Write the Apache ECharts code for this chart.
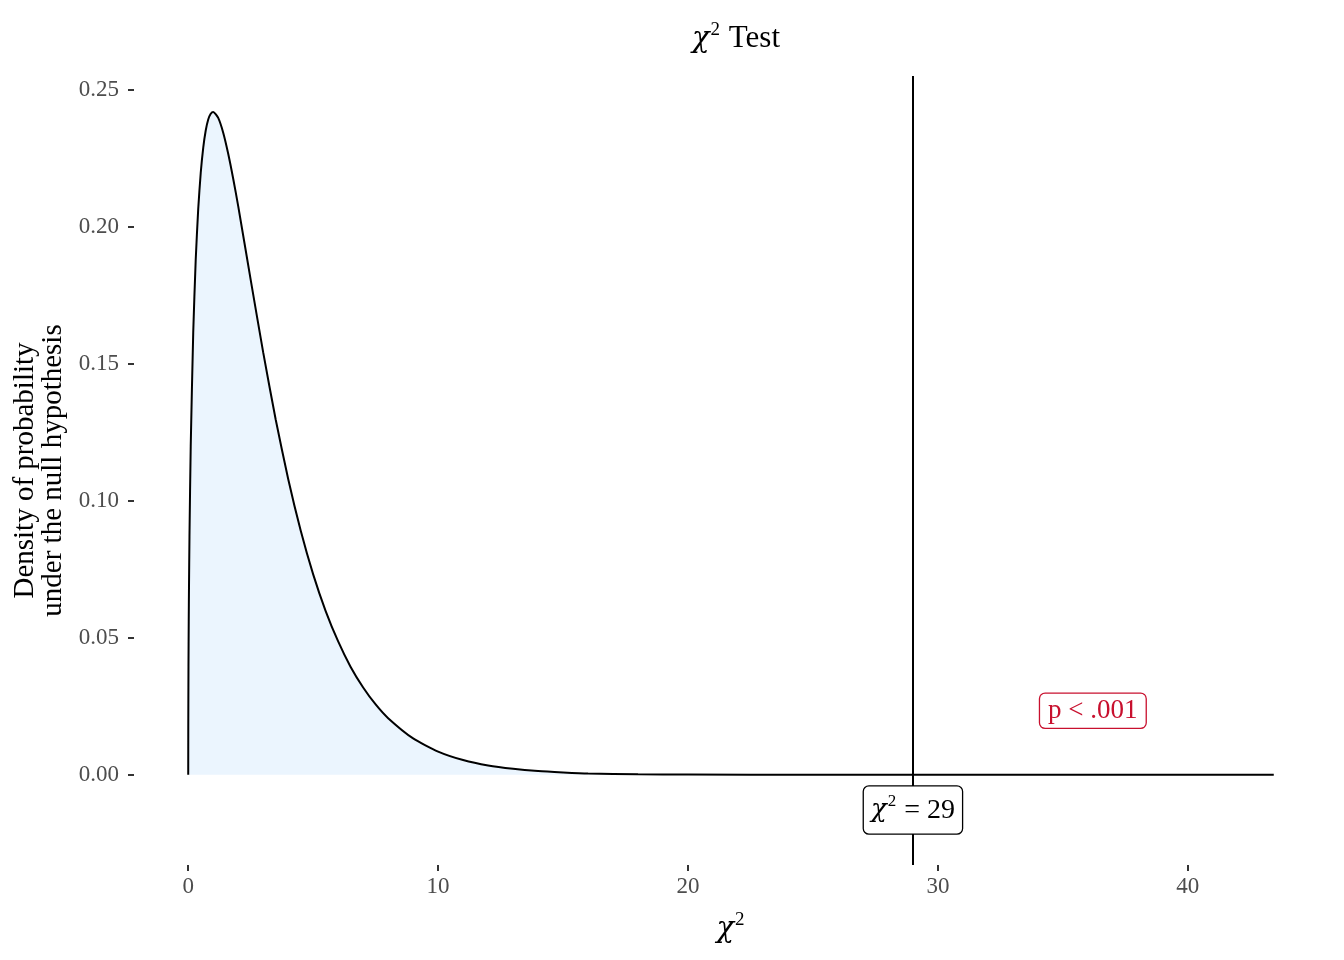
<!DOCTYPE html>
<html>
<head>
<meta charset="utf-8">
<script src="https://cdn.jsdelivr.net/npm/echarts@6/dist/echarts.min.js"></script>
<style>
html,body{margin:0;padding:0;background:#fff;}
#chart{width:1344px;height:960px;}
</style>
</head>
<body>
<div id="chart"></div>
<script>
// Chi-square statistic axis positions and density
const xValues = [0, 0.002, 0.01, 0.02, 0.03, 0.05, 0.1, 0.2, 0.3, 0.4, 0.5, 0.6, 0.7, 0.8, 0.9, 1.0,
  1.2, 1.4, 1.6, 1.8, 2.0, 2.5, 3.0, 3.5, 4.0, 4.5, 5.0, 5.5, 6.0, 6.5, 7.0, 7.5, 8.0,
  9, 10, 11, 12, 13, 14, 15, 16, 18, 20, 25, 30, 35, 40, 43.44];
const density = [0, 0.0178, 0.0397, 0.0559, 0.0681, 0.0870, 0.1200, 0.1614, 0.1881, 0.2066, 0.2197, 0.2289, 0.2352, 0.2392, 0.2413, 0.2420,
  0.2398, 0.2344, 0.2267, 0.2176, 0.2076, 0.1807, 0.1542, 0.1297, 0.1080, 0.0892, 0.0732, 0.0598, 0.0487, 0.0394, 0.0319, 0.0257, 0.0207,
  0.0133, 0.0085, 0.0054, 0.0034, 0.0022, 0.0014, 0.0009, 0.0005, 0.0002, 0.0001, 0, 0, 0, 0, 0];
const xTicks = [0, 10, 20, 30, 40];
const yTicks = [0, 0.05, 0.10, 0.15, 0.20, 0.25];
const observedChi = 29;
const statLabelPos = [29, -0.0128];
const pLabelPos = [36.2, 0.0234];
const pText = 'p < .001';

const FONT = 'Liberation Serif';
const RED = '#C8102E';
function supStyle(size, lh) {
  return {
    c: {fontFamily: 'DejaVu Serif', fontSize: size - 2, fontStyle: 'italic', fontWeight: 'normal', color: '#000', lineHeight: lh},
    g: {fontFamily: FONT, fontSize: size, fontWeight: 'normal', color: '#000', lineHeight: lh},
    s: {fontFamily: FONT, fontSize: Math.round(size * 0.6), fontWeight: 'normal', color: '#000', verticalAlign: 'top', lineHeight: lh, padding: [0, 1, 0, 1]}
  };
}

const chart = echarts.init(document.getElementById('chart'), null, {renderer: 'canvas'});
chart.setOption({
  animation: false,
  backgroundColor: '#fff',
  title: {
    text: '{c|χ}{s|2}{g| Test}',
    left: 731, textAlign: 'center', top: 16,
    textStyle: {fontWeight: 'normal', rich: supStyle(31, 36)}
  },
  grid: {left: 134, right: 16, top: 76, bottom: 95},
  xAxis: {
    type: 'value', min: -2.17, max: 45.61,
    name: '{c|χ}{s|2}', nameLocation: 'middle', nameGap: 46,
    nameTextStyle: {rich: supStyle(31, 36)},
    axisLine: {show: false, onZero: false},
    splitLine: {show: false},
    axisTick: {show: true, customValues: xTicks, length: 6, lineStyle: {color: '#333', width: 2}},
    axisLabel: {customValues: xTicks, color: '#4D4D4D', fontFamily: FONT, fontSize: 23, margin: 10}
  },
  yAxis: {
    type: 'value', min: -0.0329, max: 0.2551,
    name: 'Density of probability\nunder the null hypothesis', nameLocation: 'middle', nameGap: 63,
    nameTextStyle: {fontFamily: FONT, fontSize: 29, color: '#000', lineHeight: 28},
    axisLine: {show: false, onZero: false},
    splitLine: {show: false},
    axisTick: {show: true, customValues: yTicks, length: 6, lineStyle: {color: '#333', width: 2}},
    axisLabel: {customValues: yTicks, color: '#4D4D4D', fontFamily: FONT, fontSize: 23, margin: 15,
      formatter: v => v.toFixed(2)}
  },
  series: [
    {
      type: 'line',
      data: xValues.map((x, i) => [x, density[i]]),
      showSymbol: false, symbol: 'none',
      smooth: 0.2,
      lineStyle: {color: '#000', width: 2},
      areaStyle: {color: '#EBF5FE', opacity: 1},
      markLine: {
        silent: true, symbol: 'none',
        lineStyle: {color: '#000', width: 2, type: 'solid'},
        label: {show: false},
        data: [{xAxis: observedChi}]
      },
      z: 2
    },
    {
      type: 'scatter',
      symbolSize: 0,
      data: [statLabelPos],
      z: 5,
      itemStyle: {opacity: 1},
      label: {
        show: true, position: 'inside', opacity: 1,
        formatter: '{c|χ}{s|2}{g| = ' + observedChi + '}',
        rich: supStyle(28, 34),
        backgroundColor: '#fff', borderColor: '#000', borderWidth: 1.3, borderRadius: 5,
        padding: [7, 7, 6, 7]
      }
    },
    {
      type: 'scatter',
      symbolSize: 0,
      data: [pLabelPos],
      z: 5,
      itemStyle: {opacity: 1},
      label: {
        show: true, position: 'inside', opacity: 1,
        formatter: pText,
        fontFamily: FONT, fontSize: 27, color: RED,
        backgroundColor: '#fff', borderColor: RED, borderWidth: 1.3, borderRadius: 5,
        padding: [4, 8, 3, 8]
      }
    }
  ]
});
</script>
</body>
</html>
